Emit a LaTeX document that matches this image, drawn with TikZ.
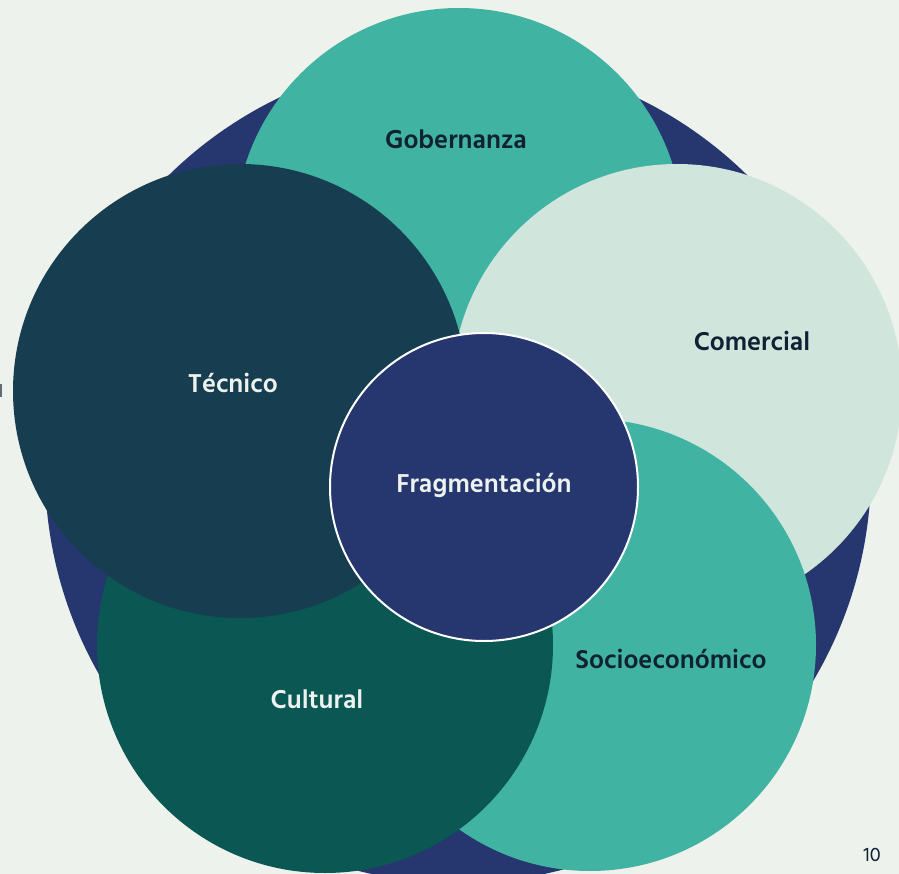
\documentclass[tikz,border=0pt]{standalone}
\usepackage{fontspec}
\setmainfont{Hind Madurai}
\definecolor{bg}{HTML}{EEF2EC}
\definecolor{navy}{HTML}{26366E}
\definecolor{teal}{HTML}{40B3A2}
\definecolor{tecn}{HTML}{173E50}
\definecolor{light}{HTML}{D0E6DC}
\definecolor{cult}{HTML}{0A5753}
\definecolor{ink}{HTML}{0F2133}
\definecolor{paper}{HTML}{EEF2EE}
\begin{document}
\begin{tikzpicture}[x=1pt,y=-1pt,
  blob/.style={circle,inner sep=0pt},
  lbl/.style={font=\fontsize{26.5}{30}\selectfont\bfseries},
  dark/.style={lbl,text=ink},
  lite/.style={lbl,text=paper}]
\fill[bg] (0,0) rectangle (899,874);
\useasboundingbox (0,0) rectangle (899,874);
\begin{scope}
\clip (0,0) rectangle (899,874);
\fill[navy] (458,470) circle (413);
\fill[teal] (459,232) circle (224);
\fill[light] (677,389) circle (225);
\fill[teal] (590,645) circle (226);
\fill[cult] (325,645) circle (228);
\fill[tecn] (240,391) circle (227);
\fill[navy,draw=white,line width=2] (484,487) circle (154);
\end{scope}
\fill[gray!70!navy] (0,384) rectangle (2,397);
\node[dark] (gob) at (456,139) {Gobernanza};
\node[dark] (com) at (752,341) {Comercial};
\node[lite] (tec) at (233,383) {Técnico};
\node[lite] (fra) at (484,485) {Fragmentación};
\node[dark] (soc) at (671,659) {Socioeconómico};
\node[lite] (cul) at (317,699) {Cultural};
\node[text=ink,font=\fontsize{20}{24}\selectfont] (pg) at (872,855) {10};
\end{tikzpicture}
\end{document}
